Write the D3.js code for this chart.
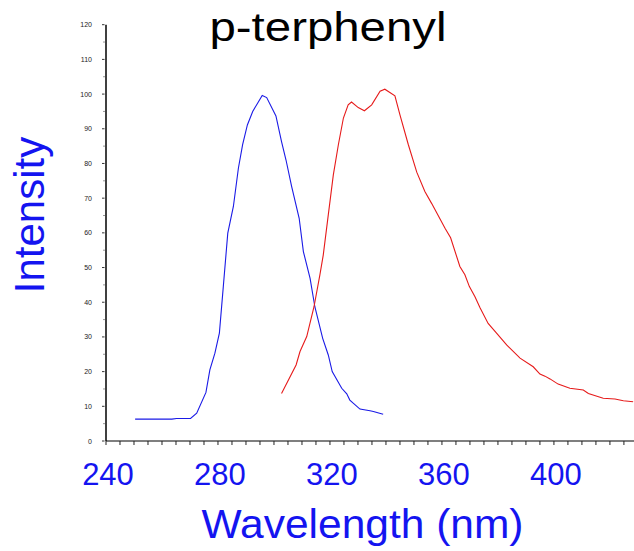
<!DOCTYPE html>
<html>
<head>
<meta charset="utf-8">
<script src="https://cdn.jsdelivr.net/npm/d3@7"></script>
<style>
  body { margin: 0; background: #fff; }
  svg { display: block; font-family: "Liberation Sans", Arial, sans-serif; }
</style>
</head>
<body>
<div id="chart"></div>
<script>
// excitation (blue) and emission (red) spectra
var blueWavelength = [250.4, 263.5, 265.2, 270.2, 272.4, 275.7, 277.1, 278.9, 280.5, 281.9, 283.5, 285.5, 287.3, 288.8, 290.5, 292.4, 295.8, 297.4, 300.7, 302.7, 304.3, 306.3, 309.0, 310.5, 312.9, 314.6, 317.4, 319.4, 320.8, 324.2, 326.0, 327.1, 328.3, 330.7, 334.3, 335.5, 339.0];
var blueIntensity = [6.3, 6.3, 6.5, 6.5, 8.0, 14.0, 20.5, 25.3, 31.1, 44.5, 59.9, 67.6, 78.7, 85.4, 91.1, 95.0, 99.6, 99.0, 93.7, 86.3, 81.0, 73.4, 64.2, 54.6, 46.9, 38.7, 29.6, 24.8, 20.0, 15.2, 13.6, 11.8, 10.9, 9.2, 8.7, 8.5, 7.7];

var redWavelength = [302.7, 307.9, 309.3, 311.7, 314.3, 316.4, 317.6, 319.4, 321.2, 323.0, 324.8, 326.5, 327.7, 330.1, 332.3, 334.9, 337.9, 339.6, 343.2, 345.0, 348.0, 351.0, 353.9, 356.3, 361.1, 363.1, 366.4, 368.2, 369.8, 371.8, 373.6, 376.5, 379.5, 383.1, 387.9, 392.6, 395.0, 396.8, 398.6, 401.5, 405.7, 410.5, 412.3, 417.6, 421.8, 424.8, 428.3];
var redIntensity = [13.7, 21.9, 25.8, 30.1, 38.7, 47.9, 53.6, 65.2, 76.7, 85.4, 93.1, 96.9, 97.7, 96.1, 95.2, 96.9, 100.8, 101.4, 99.5, 94.0, 85.4, 77.5, 71.9, 68.5, 61.3, 58.6, 50.3, 47.9, 44.5, 41.6, 38.4, 33.9, 31.1, 27.7, 23.9, 21.4, 19.3, 18.7, 17.9, 16.4, 15.2, 14.7, 13.7, 12.3, 12.1, 11.6, 11.3];

var xTickLabels = [240, 280, 320, 360, 400];
var yTickValues = [0, 10, 20, 30, 40, 50, 60, 70, 80, 90, 100, 110, 120];

function toPoints(xs, ys) {
  var pts = [];
  for (var i = 0; i < xs.length; i++) {
    pts.push({ x: xs[i], y: ys[i] });
  }
  return pts;
}

function drawChart() {
  const width = 634, height = 551;
  const margin = { top: 24.7, right: 0, bottom: 110, left: 106 };

  var svg = d3.select("#chart").append("svg")
    .attr("width", width)
    .attr("height", height);

  const xScale = d3.scaleLinear()
    .domain([240, 428.6])
    .range([margin.left, width - margin.right]);

  const yScale = d3.scaleLinear()
    .domain([0, 120])
    .range([height - margin.bottom, margin.top]);

  // curves
  var line = d3.line()
    .x(function (d) { return xScale(d.x); })
    .y(function (d) { return yScale(d.y); });

  svg.append("path")
    .datum(toPoints(blueWavelength, blueIntensity))
    .attr("fill", "none")
    .attr("stroke", "#1a1ae6")
    .attr("stroke-width", 1.1)
    .attr("d", line);

  svg.append("path")
    .datum(toPoints(redWavelength, redIntensity))
    .attr("fill", "none")
    .attr("stroke", "#e61a1a")
    .attr("stroke-width", 1.1)
    .attr("d", line);

  // x axis: line, minor ticks every 5 nm, big blue labels
  var xAxisG = svg.append("g")
    .attr("transform", "translate(0," + yScale(0) + ")");

  xAxisG.append("line")
    .attr("x1", xScale(240)).attr("x2", width)
    .attr("y1", 0).attr("y2", 0)
    .attr("stroke", "#555")
    .attr("stroke-width", 1.6);

  xAxisG.selectAll(".xtick")
    .data(d3.range(240, 429, 5))
    .enter().append("line")
    .attr("class", "xtick")
    .attr("x1", function (d) { return xScale(d); })
    .attr("x2", function (d) { return xScale(d); })
    .attr("y1", 0).attr("y2", 4)
    .attr("stroke", "#222")
    .attr("stroke-width", 1);

  svg.selectAll(".xlabel")
    .data(xTickLabels)
    .enter().append("text")
    .attr("class", "xlabel")
    .attr("x", function (d) { return xScale(d) + 2; })
    .attr("y", 485)
    .attr("text-anchor", "middle")
    .attr("font-size", "31px")
    .attr("fill", "#1414f0")
    .text(function (d) { return d; });

  // y axis
  var yAxisG = svg.append("g")
    .attr("transform", "translate(" + xScale(240) + ",0)");

  yAxisG.append("line")
    .attr("x1", 0).attr("x2", 0)
    .attr("y1", yScale(0)).attr("y2", yScale(120))
    .attr("stroke", "#000")
    .attr("stroke-width", 1.5);

  yAxisG.selectAll(".ytick")
    .data(yTickValues)
    .enter().append("line")
    .attr("class", "ytick")
    .attr("x1", -4).attr("x2", -1.5)
    .attr("y1", function (d) { return yScale(d); })
    .attr("y2", function (d) { return yScale(d); })
    .attr("stroke", "#333")
    .attr("stroke-width", 1);

  yAxisG.selectAll(".yminor")
    .data(d3.range(5, 120, 10))
    .enter().append("line")
    .attr("class", "yminor")
    .attr("x1", -2.5).attr("x2", -1.5)
    .attr("y1", function (d) { return yScale(d); })
    .attr("y2", function (d) { return yScale(d); })
    .attr("stroke", "#333")
    .attr("stroke-width", 1);

  yAxisG.selectAll(".ylabel")
    .data(yTickValues)
    .enter().append("text")
    .attr("class", "ylabel")
    .attr("x", -14)
    .attr("y", function (d) { return yScale(d) + 2.5; })
    .attr("text-anchor", "end")
    .attr("font-size", "7px")
    .attr("fill", "#222")
    .text(function (d) { return d; });

  // titles
  svg.append("text")
    .attr("x", 328)
    .attr("y", 41)
    .attr("text-anchor", "middle")
    .attr("font-size", "40px")
    .attr("textLength", 237)
    .attr("lengthAdjust", "spacingAndGlyphs")
    .attr("fill", "#000")
    .text("p-terphenyl");

  svg.append("text")
    .attr("x", 362.5)
    .attr("y", 538)
    .attr("text-anchor", "middle")
    .attr("font-size", "40px")
    .attr("textLength", 322)
    .attr("lengthAdjust", "spacingAndGlyphs")
    .attr("fill", "#1414f0")
    .text("Wavelength (nm)");

  svg.append("text")
    .attr("transform", "translate(44,215) rotate(-90)")
    .attr("text-anchor", "middle")
    .attr("font-size", "42px")
    .attr("fill", "#1414f0")
    .text("Intensity");
}

drawChart();
</script>
</body>
</html>
